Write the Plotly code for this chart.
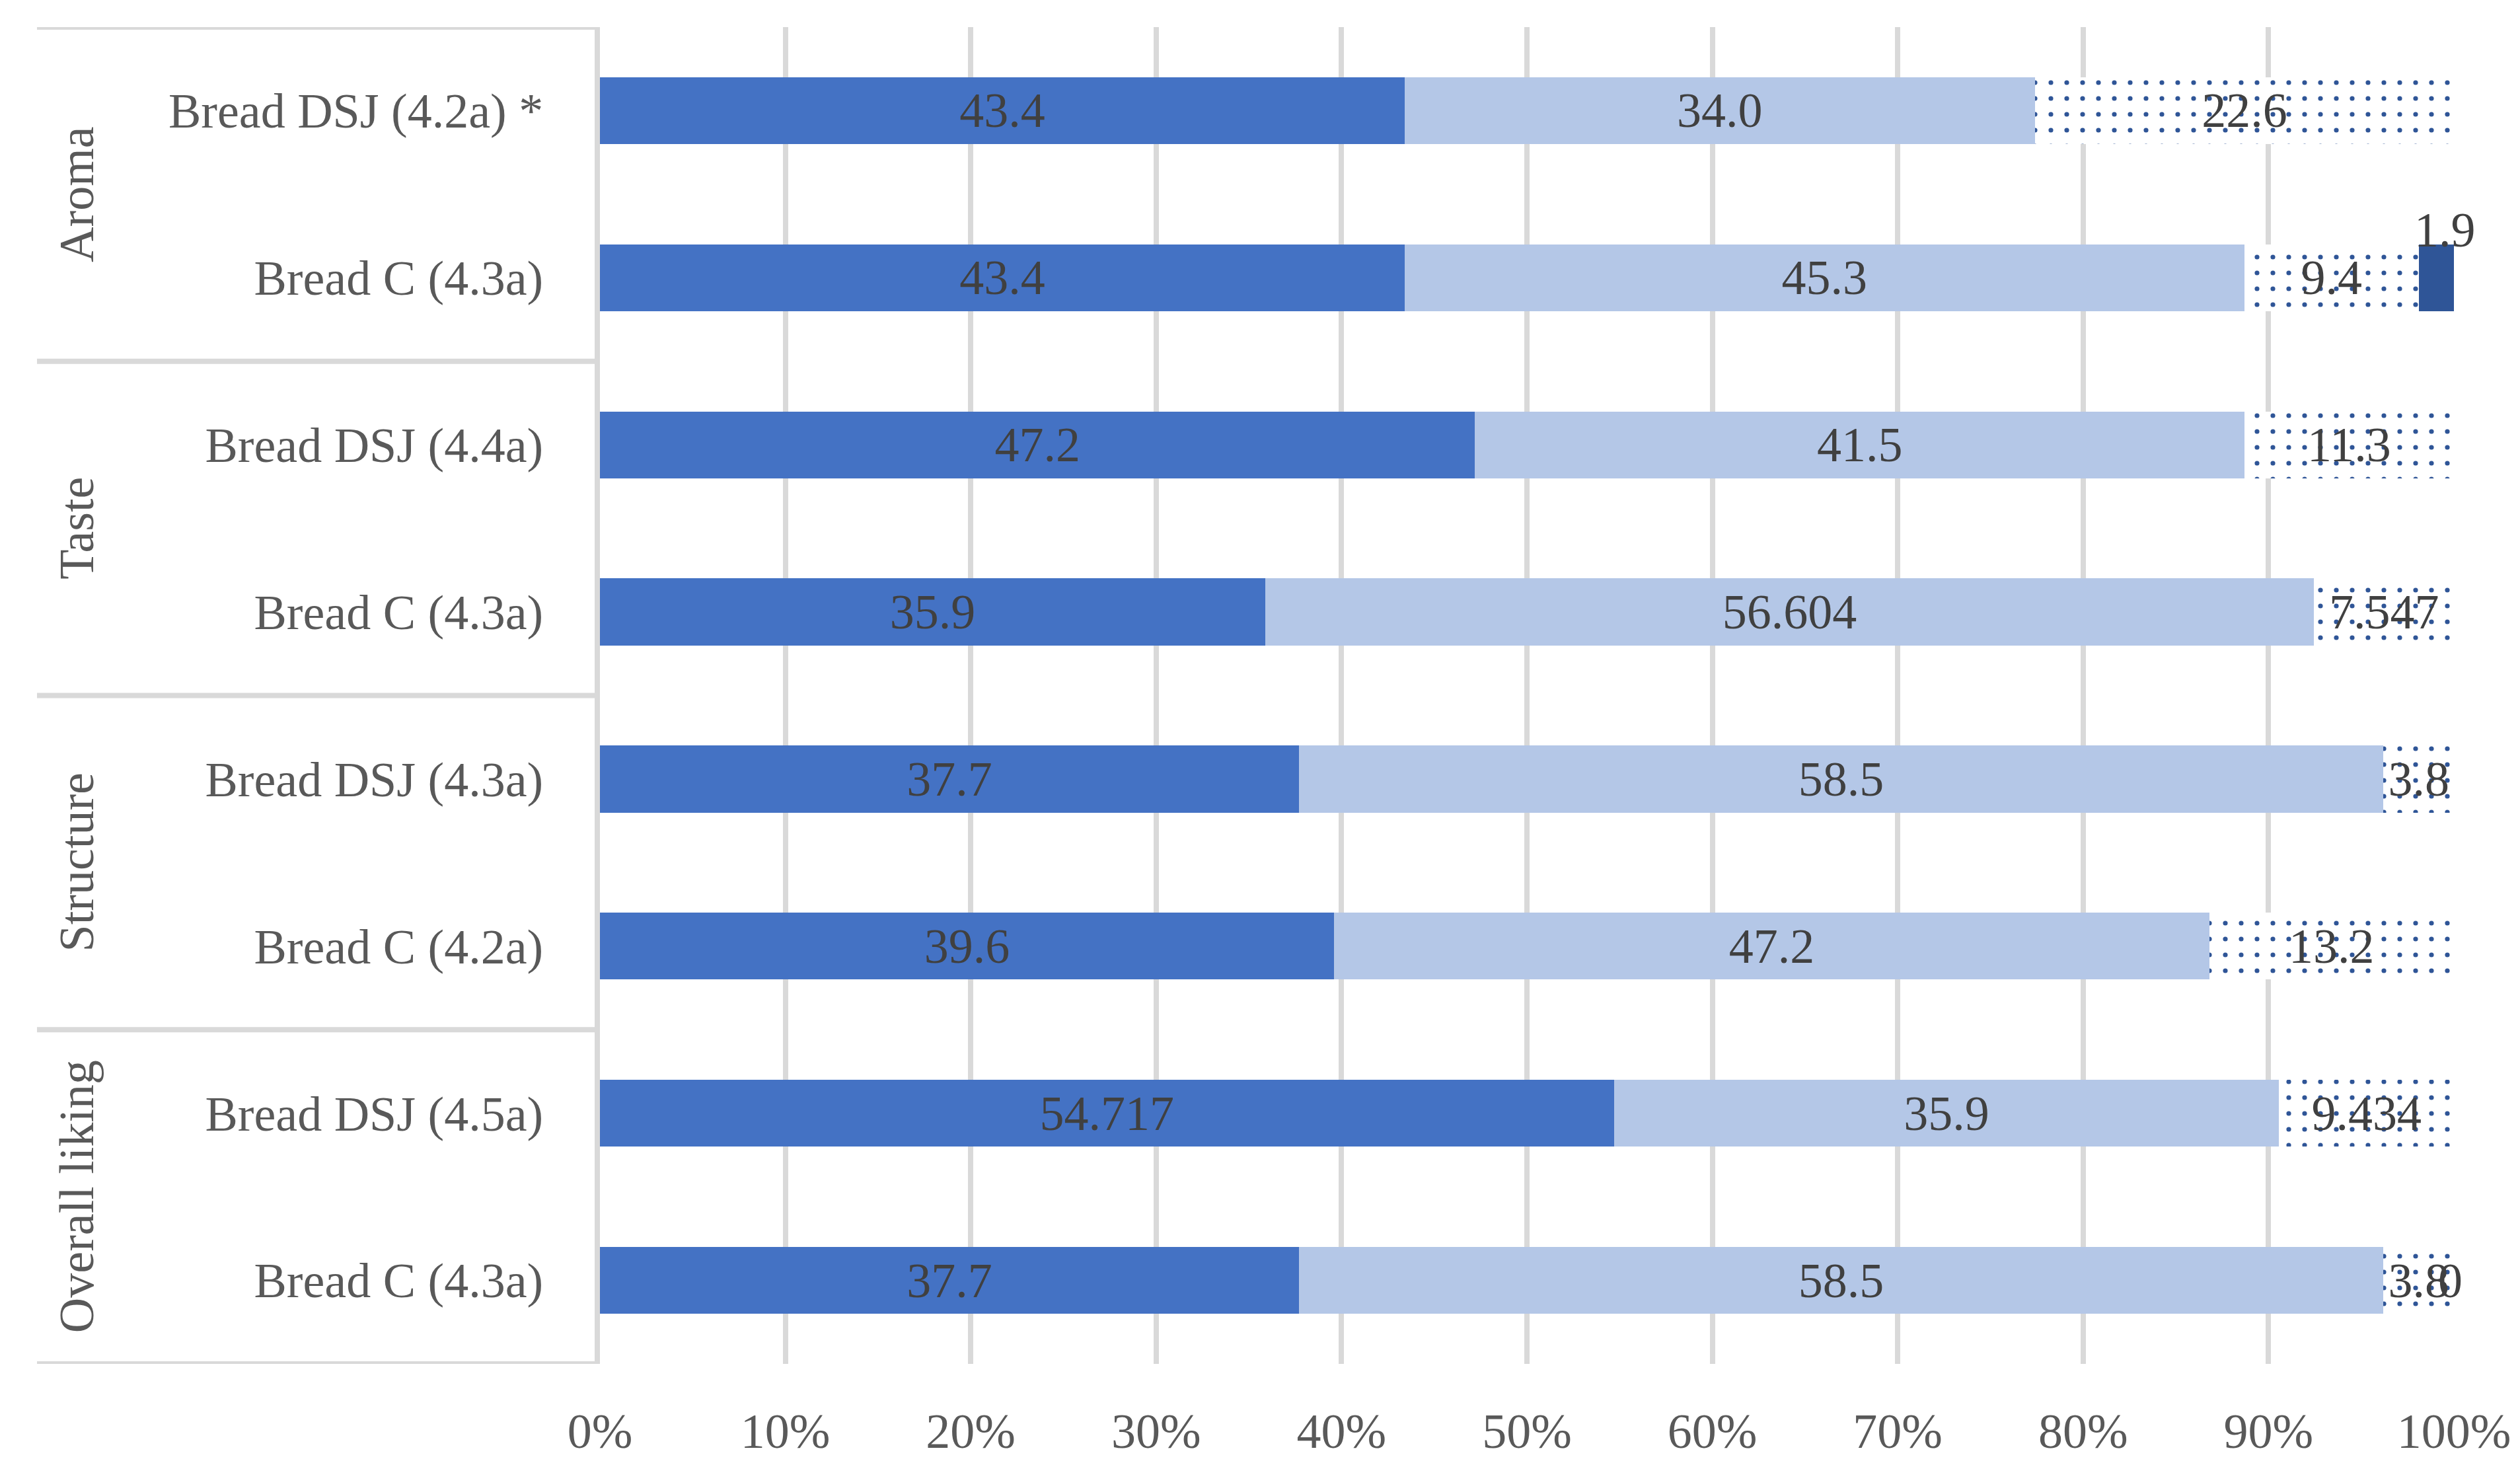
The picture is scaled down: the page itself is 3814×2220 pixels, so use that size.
import plotly.graph_objects as go

# ---- data ----
groups = ["Aroma", "Aroma", "Taste", "Taste", "Structure", "Structure",
          "Overall liking", "Overall liking"]
samples = ["Bread DSJ (4.2a) *", "Bread C (4.3a)", "Bread DSJ (4.4a)", "Bread C (4.3a)",
           "Bread DSJ (4.3a)", "Bread C (4.2a)", "Bread DSJ (4.5a)", "Bread C (4.3a)"]
s1 = [43.4, 43.4, 47.2, 35.9, 37.7, 39.6, 54.717, 37.7]
s2 = [34.0, 45.3, 41.5, 56.604, 58.5, 47.2, 35.9, 58.5]
s3 = [22.6, 9.4, 11.3, 7.547, 3.8, 13.2, 9.434, 3.8]
s4 = [None, 1.9, None, None, None, None, None, 0]
x_ticks = [0, 10, 20, 30, 40, 50, 60, 70, 80, 90, 100]

FONT = "Liberation Serif"
FS = 74
W, H = 3814, 2220
L, R, T, B = 900, 108, 33, 164
GRID = "#D9D9D9"


def fmt(v):
    if v is None:
        return ""
    if v == 0:
        return "0"
    if round(v, 1) == v:
        return f"{v:.1f}"
    return f"{v}"


rows = list(range(len(samples)))

fig = go.Figure()
series = [
    (s1, dict(color="#4472C4")),
    (s2, dict(color="#B4C7E7")),
    (s3, dict(color="white",
              pattern=dict(shape=".", fgcolor="#2F5597", bgcolor="white",
                           size=24, solidity=0.07, fillmode="replace"))),
]
for vals, marker in series:
    fig.add_trace(go.Bar(
        x=vals, y=rows, orientation="h",
        marker=dict(line=dict(width=0), **marker),
        text=[fmt(v) for v in vals], texttemplate="%{text}",
        textposition="inside", insidetextanchor="middle",
        insidetextfont=dict(family=FONT, size=FS, color="#404040"),
        showlegend=False, hoverinfo="skip",
    ))
fig.add_trace(go.Bar(
    x=s4, y=rows, orientation="h",
    marker=dict(color="#2F5597", line=dict(width=0)),
    textposition="none", showlegend=False, hoverinfo="skip",
))

# labels for the 4th (tiny) series
for i, v in enumerate(s4):
    if v is None:
        continue
    tot = s1[i] + s2[i] + s3[i] + v
    end = 100.0 * tot / tot
    if v > 0:
        fig.add_annotation(x=end, y=i, text=fmt(v), showarrow=False,
                           xanchor="center", yanchor="middle", xshift=-14, yshift=72,
                           font=dict(family=FONT, size=FS, color="#404040"))
    else:
        fig.add_annotation(x=end, y=i, text=fmt(v), showarrow=False,
                           xanchor="center", yanchor="middle", xshift=-6,
                           font=dict(family=FONT, size=FS, color="#404040"))

# group labels + dividers on the left
plot_w = W - L - R
x_left = (48 - L) / plot_w
x_glab = (108 - L) / plot_w
uniq = []
for g in groups:
    if g not in uniq:
        uniq.append(g)
for g in uniq:
    idx = [i for i, gg in enumerate(groups) if gg == g]
    fig.add_annotation(xref="paper", yref="y", x=x_glab, y=(idx[0] + idx[-1]) / 2,
                       text=g, textangle=-90, showarrow=False,
                       xanchor="center", yanchor="middle",
                       font=dict(family=FONT, size=FS, color="#595959"))
bounds = [-0.5] + [i + 0.5 for i in range(len(groups) - 1) if groups[i] != groups[i + 1]] + [len(groups) - 0.5]
for b in bounds:
    fig.add_shape(type="line", xref="paper", yref="y", x0=x_left, x1=0, y0=b, y1=b,
                  line=dict(color=GRID, width=8), layer="above")

fig.update_layout(
    width=W, height=H,
    margin=dict(l=L, r=R, t=T, b=B, autoexpand=False),
    barmode="stack", barnorm="percent", bargap=0.6,
    plot_bgcolor="white", paper_bgcolor="white",
    uniformtext=dict(minsize=FS, mode="show"),
    font=dict(family=FONT, size=FS, color="#595959"),
)
fig.update_xaxes(range=[0, 100], tickvals=x_ticks, ticktext=[f"{t}%" for t in x_ticks],
                 showgrid=True, gridcolor=GRID, gridwidth=8, zeroline=False,
                 showline=False, ticks="", ticklabelstandoff=52,
                 tickfont=dict(family=FONT, size=FS, color="#595959"))
fig.update_yaxes(range=[len(samples) - 0.5, -0.5], tickvals=rows, ticktext=samples,
                 showgrid=False, zeroline=False, showline=True, linecolor=GRID, linewidth=8,
                 ticks="", ticklabelstandoff=63,
                 tickfont=dict(family=FONT, size=FS, color="#595959"))

fig.write_html("out.html")
